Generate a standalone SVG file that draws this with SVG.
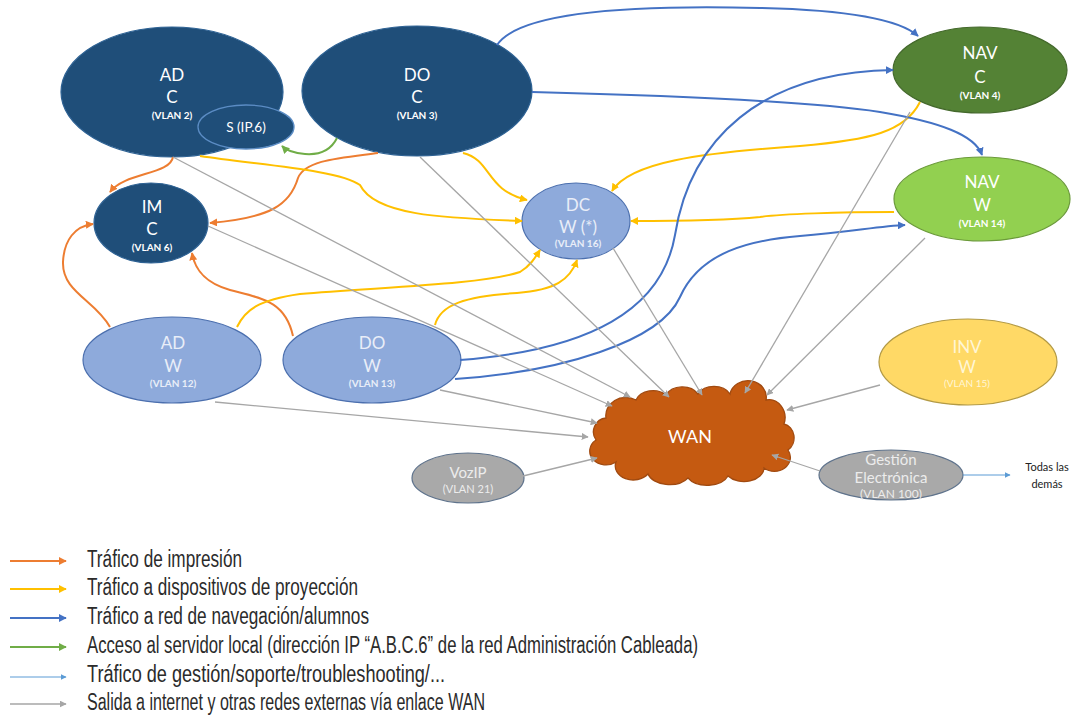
<svg xmlns="http://www.w3.org/2000/svg" width="1073" height="724" viewBox="0 0 1073 724">
<style>
  .t { font-family: Lato, "Liberation Sans", sans-serif; text-anchor: middle; fill: #ffffff; }
  .big { font-size: 17px; }
  .vl { font-size: 10px; font-weight: bold; }
  .lt { fill: #e9eef8; }
  .dk { fill: #1f4e79; stroke: #2e6294; stroke-width: 1.2; }
  .lb { fill: #8eaadb; stroke: #4b6fae; stroke-width: 1.2; }
  .gr { fill: #a9a9a9; stroke: #5f738c; stroke-width: 1.2; }
  .c { fill: none; stroke-width: 2; }
  .or { stroke: #ed7d31; }
  .ye { stroke: #ffc000; }
  .bl { stroke: #4472c4; }
  .gn { stroke: #70ad47; }
  .gy { stroke: #a6a6a6; stroke-width: 1.3; fill: none; }
  .lbl { stroke: #5b9bd5; stroke-width: 1; fill: none; }
  .leg { font-family: "Liberation Sans Narrow", "Liberation Sans", sans-serif; font-size: 23px; fill: #2b2b2b; }
</style>
<defs>
  <marker id="aOr" viewBox="0 0 10 10" refX="9" refY="5" markerUnits="userSpaceOnUse" markerWidth="8" markerHeight="8" orient="auto"><path d="M0,0 L10,5 L0,10 z" fill="#ed7d31"/></marker>
  <marker id="aYe" viewBox="0 0 10 10" refX="9" refY="5" markerUnits="userSpaceOnUse" markerWidth="8" markerHeight="8" orient="auto"><path d="M0,0 L10,5 L0,10 z" fill="#ffc000"/></marker>
  <marker id="aBl" viewBox="0 0 10 10" refX="9" refY="5" markerUnits="userSpaceOnUse" markerWidth="8" markerHeight="8" orient="auto"><path d="M0,0 L10,5 L0,10 z" fill="#4472c4"/></marker>
  <marker id="aGn" viewBox="0 0 10 10" refX="9" refY="5" markerUnits="userSpaceOnUse" markerWidth="8" markerHeight="8" orient="auto"><path d="M0,0 L10,5 L0,10 z" fill="#70ad47"/></marker>
  <marker id="aGy" viewBox="0 0 10 10" refX="9" refY="5" markerUnits="userSpaceOnUse" markerWidth="7" markerHeight="7" orient="auto"><path d="M0,0 L10,5 L0,10 z" fill="#a6a6a6"/></marker>
  <marker id="aLb" viewBox="0 0 10 10" refX="9" refY="5" markerUnits="userSpaceOnUse" markerWidth="6" markerHeight="6" orient="auto"><path d="M0,0 L10,5 L0,10 z" fill="#5b9bd5"/></marker>
</defs>

<rect width="1073" height="724" fill="#ffffff"/>

<!-- Nodes -->
<g id="node-adc"><ellipse class="dk" cx="172" cy="92" rx="111" ry="65"/>
  <text class="t big" x="172" y="81">AD</text><text class="t big" x="172" y="103">C</text><text class="t vl" x="172" y="119">(VLAN 2)</text></g>
<g id="node-server"><ellipse cx="246" cy="127" rx="48" ry="22" fill="#1f4e79" stroke="#5b8cc4" stroke-width="1.3"/>
  <text class="t" x="246" y="132" font-size="13.5">S (IP.6)</text></g>
<g id="node-doc"><ellipse class="dk" cx="417" cy="91" rx="115" ry="65"/>
  <text class="t big" x="417" y="81">DO</text><text class="t big" x="417" y="103">C</text><text class="t vl" x="417" y="119">(VLAN 3)</text></g>
<g id="node-navc"><ellipse cx="980" cy="70" rx="87" ry="43" fill="#548235" stroke="#44692c" stroke-width="1.2"/>
  <text class="t big" x="980" y="59">NAV</text><text class="t big" x="980" y="83">C</text><text class="t vl" x="980" y="99">(VLAN 4)</text></g>
<g id="node-navw"><ellipse cx="982" cy="199" rx="88" ry="42" fill="#92d050" stroke="#6b9a3a" stroke-width="1.2"/>
  <text class="t big" x="982" y="188">NAV</text><text class="t big" x="982" y="211">W</text><text class="t vl" x="982" y="227">(VLAN 14)</text></g>
<g id="node-dcw"><ellipse class="lb" cx="576" cy="221" rx="54" ry="38"/>
  <text class="t big lt" x="578" y="211">DC</text><text class="t big lt" x="578" y="233">W (*)</text><text class="t vl lt" x="578" y="247">(VLAN 16)</text></g>
<g id="node-imc"><ellipse class="dk" cx="151" cy="223" rx="57" ry="40"/>
  <text class="t big" x="152" y="213">IM</text><text class="t big" x="152" y="235">C</text><text class="t vl" x="152" y="251">(VLAN 6)</text></g>
<g id="node-adw"><ellipse class="lb" cx="172" cy="360" rx="89" ry="43"/>
  <text class="t big lt" x="173" y="349">AD</text><text class="t big lt" x="173" y="372">W</text><text class="t vl lt" x="173" y="387">(VLAN 12)</text></g>
<g id="node-dow"><ellipse class="lb" cx="372" cy="360" rx="89" ry="43"/>
  <text class="t big lt" x="372" y="349">DO</text><text class="t big lt" x="372" y="372">W</text><text class="t vl lt" x="372" y="387">(VLAN 13)</text></g>
<g id="node-invw"><ellipse cx="968" cy="362" rx="89" ry="43" fill="#ffd966" stroke="#b39a45" stroke-width="1.2"/>
  <text class="t big" x="967" y="353" style="fill:#fff6d5">INV</text><text class="t big" x="967" y="373" style="fill:#fff6d5">W</text><text class="t vl" x="967" y="387" style="fill:#fff6d5;font-weight:normal">(VLAN 15)</text></g>
<g id="node-wan"><path d="M596,440 a14,14 0 0 1 10,-22 a20,18 0 0 1 30,-18 a18,14 0 0 1 30,-5 a18,14 0 0 1 32,-1 a18,14 0 0 1 32,0 a18,16 0 0 1 36,6 a16,18 0 0 1 18,24 a12,14 0 0 1 4,26 a16,14 0 0 1 -24,18 a20,14 0 0 1 -36,8 a22,14 0 0 1 -40,2 a22,14 0 0 1 -40,-4 a18,14 0 0 1 -32,-12 a14,12 0 0 1 -20,-22 z" fill="#c55a11" stroke="#a14a10" stroke-width="1.3"/>
  <text class="t" x="690" y="443" font-size="18">WAN</text></g>
<g id="node-vozip"><ellipse class="gr" cx="468" cy="478" rx="56" ry="25"/>
  <text class="t" x="468" y="478" font-size="15" style="fill:#ececec">VozIP</text><text class="t" x="468" y="493" font-size="11" style="fill:#ececec">(VLAN 21)</text></g>
<g id="node-gestion"><ellipse class="gr" cx="891" cy="475" rx="72" ry="25"/>
  <text class="t" x="891" y="465" font-size="15" style="fill:#ececec">Gestión</text><text class="t" x="891" y="483" font-size="15" style="fill:#ececec">Electrónica</text><text class="t" x="891" y="498" font-size="12" style="fill:#ececec">(VLAN 100)</text></g>
<g id="node-todas">
  <text x="1047" y="471" font-family="Lato, 'Liberation Sans', sans-serif" font-size="11" text-anchor="middle" fill="#222">Todas las</text>
  <text x="1047" y="488" font-family="Lato, 'Liberation Sans', sans-serif" font-size="11" text-anchor="middle" fill="#222">demás</text></g>

<!-- Connectors -->
<g id="connectors">
  <path class="c or" d="M173,157 C170,175 125,172 110,192" marker-end="url(#aOr)"/>
  <path class="c or" d="M378,153 C340,158 305,160 298,178 C290,205 270,218 210,223" marker-end="url(#aOr)"/>
  <path class="c or" d="M110,327 C95,300 62,292 63,262 C64,240 75,226 93,224" marker-end="url(#aOr)"/>
  <path class="c or" d="M293,336 C285,300 260,298 230,290 C205,283 195,270 192,253" marker-end="url(#aOr)"/>
  <path class="c ye" d="M200,156 C260,165 340,170 360,185 C375,215 440,218 522,221" marker-end="url(#aYe)"/>
  <path class="c ye" d="M463,153 C492,160 485,190 527,200" marker-end="url(#aYe)"/>
  <path class="c ye" d="M920,102 C905,132 870,140 800,146 C700,153 630,162 612,191" marker-end="url(#aYe)"/>
  <path class="c ye" d="M894,212 C840,212 780,214 760,217 C720,221 670,221 631,221" marker-end="url(#aYe)"/>
  <path class="c ye" d="M237,327 C245,310 258,300 300,294 C380,287 480,285 520,272 C530,266 535,258 540,250" marker-end="url(#aYe)"/>
  <path class="c ye" d="M435,325 C440,305 465,296 517,293 C555,290 570,280 577,260" marker-end="url(#aYe)"/>
  <path class="c bl" d="M497,45 C520,10 640,5 760,8 C850,10 900,20 918,36" marker-end="url(#aBl)"/>
  <path class="c bl" d="M532,92 C650,95 800,100 880,112 C940,122 975,135 982,155" marker-end="url(#aBl)"/>
  <path class="c bl" d="M460,360 C590,350 662,310 675,235 C690,140 760,72 893,70" marker-end="url(#aBl)"/>
  <path class="c bl" d="M455,379 C560,372 660,342 680,297 C700,252 750,240 800,236 C850,232 880,226 905,225" marker-end="url(#aBl)"/>
  <path class="c gn" d="M337,138 C330,152 318,155 305,154 C292,153 286,150 282,146" marker-end="url(#aGn)"/>
  <path class="gy" d="M173,157 L630,397" marker-end="url(#aGy)"/>
  <path class="gy" d="M208,226 L612,406" marker-end="url(#aGy)"/>
  <path class="gy" d="M420,157 L669,397" marker-end="url(#aGy)"/>
  <path class="gy" d="M613,248 L702,395" marker-end="url(#aGy)"/>
  <path class="gy" d="M910,112 L745,393" marker-end="url(#aGy)"/>
  <path class="gy" d="M925,238 L767,395" marker-end="url(#aGy)"/>
  <path class="gy" d="M880,385 L787,410" marker-end="url(#aGy)"/>
  <path class="gy" d="M440,390 L597,423" marker-end="url(#aGy)"/>
  <path class="gy" d="M215,402 L588,437" marker-end="url(#aGy)"/>
  <path class="gy" d="M523,476 L597,458" marker-end="url(#aGy)"/>
  <path class="gy" d="M820,471 L772,455" marker-end="url(#aGy)"/>
  <path class="lbl" d="M963,475 L1010,475" marker-end="url(#aLb)"/>
</g>

<!-- Legend -->
<g id="legend">
  <path class="c or" d="M10,561 L66,561" marker-end="url(#aOr)"/>
  <path class="c ye" d="M10,589 L66,589" marker-end="url(#aYe)"/>
  <path class="c bl" d="M10,618 L66,618" marker-end="url(#aBl)"/>
  <path class="c gn" d="M10,647 L66,647" marker-end="url(#aGn)"/>
  <path class="lbl" d="M10,677 L66,677" stroke-width="1.3" marker-end="url(#aLb)"/>
  <path class="gy" d="M10,704 L66,704" marker-end="url(#aGy)"/>
  <text class="leg" x="87" y="567" textLength="155" lengthAdjust="spacingAndGlyphs">Tráfico de impresión</text>
  <text class="leg" x="87" y="595" textLength="271" lengthAdjust="spacingAndGlyphs">Tráfico a dispositivos de proyección</text>
  <text class="leg" x="87" y="624" textLength="282" lengthAdjust="spacingAndGlyphs">Tráfico a red de navegación/alumnos</text>
  <text class="leg" x="87" y="653" textLength="611" lengthAdjust="spacingAndGlyphs">Acceso al servidor local (dirección IP “A.B.C.6” de la red Administración Cableada)</text>
  <text class="leg" x="87" y="682" textLength="358" lengthAdjust="spacingAndGlyphs">Tráfico de gestión/soporte/troubleshooting/...</text>
  <text class="leg" x="87" y="710" textLength="398" lengthAdjust="spacingAndGlyphs">Salida a internet y otras redes externas vía enlace WAN</text>
</g>
</svg>
